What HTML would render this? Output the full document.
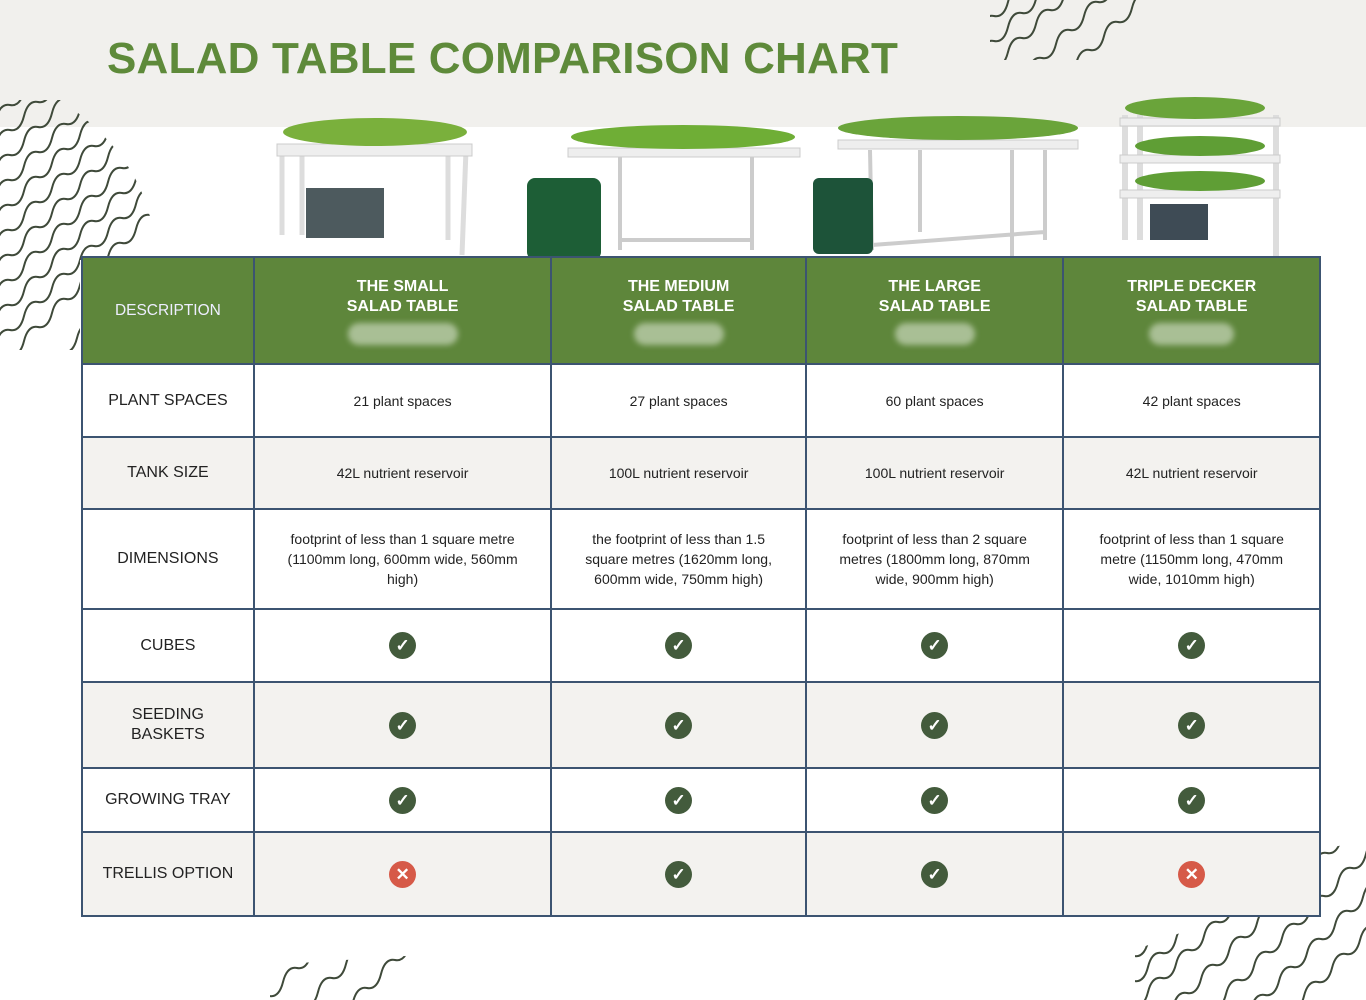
<!DOCTYPE html>
<html><head><meta charset="utf-8">
<style>
*{margin:0;padding:0;box-sizing:border-box}
html,body{width:1366px;height:1000px;overflow:hidden}
body{position:relative;background:#fff;font-family:"Liberation Sans",sans-serif}
.band{position:absolute;left:0;top:0;width:1366px;height:127px;background:#f1f0ed}
h1{position:absolute;left:107px;top:34px;font-size:44px;font-weight:bold;color:#5e8a3a;letter-spacing:0.2px}
table{position:absolute;left:81px;top:256px;border-collapse:collapse;width:1240px}
td{border:2px solid #3c5471;text-align:center;font-size:14px;color:#222;line-height:20px}
tr.h td{background:#5e863b;color:#fff;font-weight:bold;font-size:16px;height:107px}
tr.h td.d{font-weight:normal;font-size:15.5px;color:#eef}
td.l{font-size:16px}
.g td{background:#f3f2ef}
.ck{display:inline-block;width:27px;height:27px;border-radius:50%;background:#435b3c;color:#fff;font-size:17px;line-height:27px;font-weight:bold}
.x{background:#d65a48}
.blur{display:block;margin:6px auto 0;width:100px;height:22px;border-radius:11px;background:#a9bf95;filter:blur(3px)}
svg{position:absolute}
</style></head><body>
<div class="band"></div>
<h1>SALAD TABLE COMPARISON CHART</h1>

<svg width="1366" height="1000" style="left:0;top:0;overflow:hidden">
<defs>
<path id="w" d="M0,0 q4,-16 14,-14 t14,-14 t14,-14 t14,-14 t14,-14 t14,-14 t14,-14 t14,-14 t14,-14 t14,-14 t14,-14 t14,-14 t14,-14 t14,-14 t14,-14 t14,-14" fill="none" stroke="#3f4a3a" stroke-width="2"/>
<clipPath id="c1"><path d="M0,100 L60,100 Q150,160 155,250 L150,260 L80,260 L80,350 L0,350Z"/></clipPath>
<clipPath id="c2"><path d="M990,0 L1170,0 L1150,60 L990,60Z"/></clipPath>
<clipPath id="c3"><path d="M1135,950 L1320,880 L1320,850 L1366,840 L1366,1000 L1135,1000Z"/></clipPath>
<clipPath id="c4"><path d="M270,965 L420,955 L440,1000 L270,1000Z"/></clipPath>
</defs>
<g clip-path="url(#c1)">
<g transform="translate(-60,150)"><use href="#w"/></g><g transform="translate(-60,175)"><use href="#w"/></g><g transform="translate(-60,200)"><use href="#w"/></g><g transform="translate(-60,225)"><use href="#w"/></g><g transform="translate(-60,250)"><use href="#w"/></g><g transform="translate(-60,275)"><use href="#w"/></g><g transform="translate(-60,300)"><use href="#w"/></g><g transform="translate(-60,325)"><use href="#w"/></g><g transform="translate(-60,350)"><use href="#w"/></g><g transform="translate(-60,375)"><use href="#w"/></g><g transform="translate(-60,400)"><use href="#w"/></g><g transform="translate(-60,425)"><use href="#w"/></g><g transform="translate(-35,450)"><use href="#w"/></g><g transform="translate(-10,475)"><use href="#w"/></g>
</g>
<g clip-path="url(#c2)">
<g transform="translate(980,30)"><use href="#w"/></g><g transform="translate(980,55)"><use href="#w"/></g><g transform="translate(980,80)"><use href="#w"/></g><g transform="translate(1000,100)"><use href="#w"/></g><g transform="translate(1020,120)"><use href="#w"/></g>
</g>
<g clip-path="url(#c3)">
<g transform="translate(1120,970)"><use href="#w"/></g><g transform="translate(1120,995)"><use href="#w"/></g><g transform="translate(1120,1020)"><use href="#w"/></g><g transform="translate(1145,1035)"><use href="#w"/></g><g transform="translate(1170,1050)"><use href="#w"/></g><g transform="translate(1195,1065)"><use href="#w"/></g><g transform="translate(1220,1080)"><use href="#w"/></g>
</g>
<g clip-path="url(#c4)">
<g transform="translate(255,1010)"><use href="#w"/></g><g transform="translate(290,1020)"><use href="#w"/></g><g transform="translate(325,1030)"><use href="#w"/></g>
</g>
<!-- product 1 -->
<g stroke="#ddd" stroke-width="5" fill="none"><path d="M282,150 L282,235 M302,150 L302,235 M466,150 L462,255 M448,150 L448,240"/></g>
<rect x="277" y="144" width="195" height="12" fill="#eee" stroke="#ccc"/>
<rect x="306" y="188" width="78" height="50" fill="#4d5a5e"/>
<ellipse cx="375" cy="132" rx="92" ry="14" fill="#7ab03c"/>
<!-- product 2 -->
<g stroke="#ccc" stroke-width="4" fill="none"><path d="M620,155 L620,250 M752,155 L752,250 M620,240 L752,240"/></g>
<rect x="568" y="148" width="232" height="9" fill="#eee" stroke="#ccc"/>
<ellipse cx="683" cy="137" rx="112" ry="12" fill="#6fae36"/>
<rect x="527" y="178" width="74" height="82" rx="8" fill="#1d5e36"/>
<!-- product 3 -->
<g stroke="#ccc" stroke-width="4" fill="none"><path d="M870,150 L872,250 M1012,150 L1012,278 M920,150 L920,232 M1045,150 L1045,240 M872,245 L1045,232"/></g>
<rect x="838" y="140" width="240" height="9" fill="#eee" stroke="#ccc"/>
<ellipse cx="958" cy="128" rx="120" ry="12" fill="#6aa43a"/>
<rect x="813" y="178" width="60" height="76" rx="6" fill="#1d5339"/>
<!-- product 4 -->
<g stroke="#ddd" stroke-width="6" fill="none"><path d="M1125,115 L1125,240 M1276,115 L1276,265 M1140,115 L1140,240"/></g>
<rect x="1120" y="118" width="160" height="8" fill="#eee" stroke="#ccc"/>
<rect x="1120" y="155" width="160" height="8" fill="#eee" stroke="#ccc"/>
<rect x="1120" y="190" width="160" height="8" fill="#eee" stroke="#ccc"/>
<ellipse cx="1195" cy="108" rx="70" ry="11" fill="#6aa43a"/>
<ellipse cx="1200" cy="146" rx="65" ry="10" fill="#5f9e35"/>
<ellipse cx="1200" cy="181" rx="65" ry="10" fill="#5f9e35"/>
<rect x="1150" y="204" width="58" height="36" fill="#3e4b55"/>
</svg>

<table>
<colgroup><col style="width:172px"><col style="width:298px"><col style="width:255px"><col style="width:258px"><col style="width:257px"></colgroup>
<tr class="h"><td class="d">DESCRIPTION</td><td>THE SMALL<br>SALAD TABLE<span class="blur" style="width:110px"></span></td><td>THE MEDIUM<br>SALAD TABLE<span class="blur" style="width:90px"></span></td><td>THE LARGE<br>SALAD TABLE<span class="blur" style="width:80px"></span></td><td>TRIPLE DECKER<br>SALAD TABLE<span class="blur" style="width:85px"></span></td></tr>
<tr style="height:73px"><td class="l">PLANT SPACES</td><td>21 plant spaces</td><td>27 plant spaces</td><td>60 plant spaces</td><td>42 plant spaces</td></tr>
<tr class="g" style="height:72px"><td class="l">TANK SIZE</td><td>42L nutrient reservoir</td><td>100L nutrient reservoir</td><td>100L nutrient reservoir</td><td>42L nutrient reservoir</td></tr>
<tr style="height:100px"><td class="l">DIMENSIONS</td><td>footprint of less than 1 square metre<br>(1100mm long, 600mm wide, 560mm<br>high)</td><td>the footprint of less than 1.5<br>square metres (1620mm long,<br>600mm wide, 750mm high)</td><td>footprint of less than 2 square<br>metres (1800mm long, 870mm<br>wide, 900mm high)</td><td>footprint of less than 1 square<br>metre (1150mm long, 470mm<br>wide, 1010mm high)</td></tr>
<tr style="height:73px"><td class="l">CUBES</td><td><span class="ck">✓</span></td><td><span class="ck">✓</span></td><td><span class="ck">✓</span></td><td><span class="ck">✓</span></td></tr>
<tr class="g" style="height:86px"><td class="l">SEEDING<br>BASKETS</td><td><span class="ck">✓</span></td><td><span class="ck">✓</span></td><td><span class="ck">✓</span></td><td><span class="ck">✓</span></td></tr>
<tr style="height:64px"><td class="l">GROWING TRAY</td><td><span class="ck">✓</span></td><td><span class="ck">✓</span></td><td><span class="ck">✓</span></td><td><span class="ck">✓</span></td></tr>
<tr class="g" style="height:84px"><td class="l">TRELLIS OPTION</td><td><span class="ck x">✕</span></td><td><span class="ck">✓</span></td><td><span class="ck">✓</span></td><td><span class="ck x">✕</span></td></tr>
</table>
</body></html>
